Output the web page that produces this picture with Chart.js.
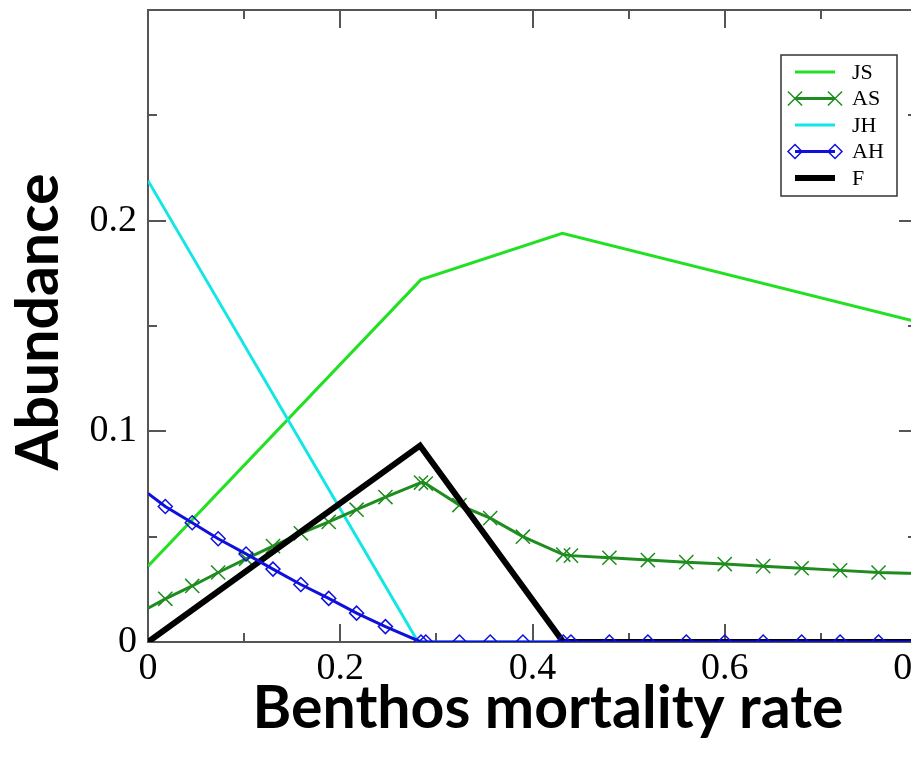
<!DOCTYPE html>
<html>
<head>
<meta charset="utf-8">
<script src="https://cdn.jsdelivr.net/npm/chart.js@4/dist/chart.umd.min.js"></script>
<style>
  html, body { margin: 0; padding: 0; background: #fff; overflow: hidden; }
  #caixa { width: 920px; height: 761px; }
</style>
</head>
<body>
<div id="caixa"><canvas id="grafico" width="920" height="761"></canvas></div>
<script>
// taxa de mortalidade do bentos (eixo x) e abundancias
const xJS = [0, 0.284, 0.431, 0.8];
const yJS = [0.036, 0.172, 0.194, 0.152];

const xJH = [0, 0.281, 0.8];
const yJH = [0.219, 0, 0];

const xF = [0, 0.283, 0.432, 0.8];
const yF = [0, 0.0932, 0, 0];

// series adultas: simbolos em cada ponto calculado
const xAdultos = [0, 0.018, 0.046, 0.073, 0.102, 0.130, 0.159, 0.188, 0.217, 0.247,
  0.284, 0.289, 0.324, 0.356, 0.390, 0.432, 0.44, 0.48, 0.52, 0.56,
  0.60, 0.64, 0.68, 0.72, 0.76, 0.8];
const yAS = [0.016, 0.0205, 0.0266, 0.033, 0.0395, 0.0455, 0.0516, 0.057, 0.0628, 0.0688,
  0.0757, 0.0752, 0.065, 0.0588, 0.050, 0.0415, 0.041, 0.040, 0.0389, 0.0379,
  0.037, 0.036, 0.035, 0.034, 0.033, 0.0325];
const yAH = [0.0705, 0.0643, 0.0566, 0.049, 0.0418, 0.0346, 0.0273, 0.0207, 0.0137, 0.0073,
  0, 0, 0, 0, 0, 0, 0, 0, 0, 0,
  0, 0, 0, 0, 0, 0];

const xRotulos = ['0', '0.2', '0.4', '0.6', '0.8'];
const yRotulos = ['0', '0.1', '0.2'];

const tituloX = 'Benthos mortality rate';
const tituloY = 'Abundance';

const pontos = (xs, ys) => xs.map((v, i) => ({ x: v, y: ys[i] }));
// sem simbolo nas pontas do eixo
const raio = (r, n) => (c) => (c.dataIndex === 0 || c.dataIndex === n - 1) ? 0 : r;

const moldura = {
  id: 'moldura',
  beforeDatasetsDraw(chart) {
    const { ctx, chartArea: a, scales: { x, y } } = chart;
    ctx.save();
    ctx.strokeStyle = '#555';
    ctx.lineWidth = 2;
    ctx.strokeRect(a.left, a.top, a.right - a.left, a.bottom - a.top);
    ctx.beginPath();
    x.ticks.forEach((t, i) => {
      const px = Math.round(x.getPixelForValue(t.value));
      const len = i % 2 === 0 ? 18 : 9;
      ctx.moveTo(px, a.bottom); ctx.lineTo(px, a.bottom - len);
      ctx.moveTo(px, a.top); ctx.lineTo(px, a.top + len);
    });
    y.ticks.forEach((t, i) => {
      const py = Math.round(y.getPixelForValue(t.value));
      const len = i % 2 === 0 ? 18 : 9;
      ctx.moveTo(a.left, py); ctx.lineTo(a.left + len, py);
      ctx.moveTo(a.right, py); ctx.lineTo(a.right - len, py);
    });
    ctx.stroke();
    ctx.restore();
  }
};

const titulos = {
  id: 'titulos',
  afterDraw(chart) {
    const { ctx } = chart;
    ctx.save();
    ctx.fillStyle = '#000';
    ctx.font = 'bold 59px Lato';
    ctx.textAlign = 'center';
    ctx.textBaseline = 'alphabetic';
    ctx.fillText(tituloX, 548, 728);
    ctx.translate(58, 322);
    ctx.rotate(-Math.PI / 2);
    ctx.fillText(tituloY, 0, 0);
    ctx.restore();
  }
};

const legenda = {
  id: 'legenda',
  afterDraw(chart) {
    const { ctx } = chart;
    const bx = 781, by = 55, bw = 116, bh = 141;
    ctx.save();
    ctx.fillStyle = '#fff';
    ctx.fillRect(bx, by, bw, bh);
    ctx.strokeStyle = '#333';
    ctx.lineWidth = 1.5;
    ctx.strokeRect(bx, by, bw, bh);
    ctx.font = '22px "Liberation Serif"';
    ctx.textBaseline = 'middle';
    chart.data.datasets.forEach((ds, i) => {
      const ly = by + 17 + i * 26.5;
      ctx.strokeStyle = ds.borderColor;
      ctx.lineWidth = ds.borderWidth;
      ctx.beginPath();
      ctx.moveTo(bx + 14, ly);
      ctx.lineTo(bx + 54, ly);
      ctx.stroke();
      if (ds.pointStyle) {
        ctx.lineWidth = ds.pointBorderWidth;
        ctx.fillStyle = 'rgba(0,0,0,0)';
        const op = { pointStyle: ds.pointStyle, radius: ds.simbolo, borderWidth: ds.pointBorderWidth, rotation: 0 };
        Chart.helpers.drawPoint(ctx, op, bx + 14, ly);
        Chart.helpers.drawPoint(ctx, op, bx + 54, ly);
      }
      ctx.fillStyle = '#000';
      ctx.fillText(ds.label, bx + 71, ly + 1);
    });
    ctx.restore();
  }
};

new Chart(document.getElementById('grafico'), {
  type: 'scatter',
  data: {
    datasets: [
      { label: 'JS', data: pontos(xJS, yJS), showLine: true, borderColor: '#22e022',
        borderWidth: 3, pointRadius: 0, order: 4 },
      { label: 'AS', data: pontos(xAdultos, yAS), showLine: true, borderColor: '#1f8c1f',
        borderWidth: 3, pointStyle: 'crossRot', simbolo: 10, pointRadius: raio(10, xAdultos.length),
        pointBorderWidth: 1.5, pointBorderColor: '#1f8c1f', pointBackgroundColor: 'rgba(0,0,0,0)', order: 2 },
      { label: 'JH', data: pontos(xJH, yJH), showLine: true, borderColor: '#14e6e6',
        borderWidth: 3, pointRadius: 0, order: 3 },
      { label: 'AH', data: pontos(xAdultos, yAH), showLine: true, borderColor: '#1010dd',
        borderWidth: 3, pointStyle: 'rectRot', simbolo: 7, pointRadius: raio(7, xAdultos.length),
        pointBorderWidth: 1.5, pointBorderColor: '#1010dd', pointBackgroundColor: 'rgba(0,0,0,0)', order: 0 },
      { label: 'F', data: pontos(xF, yF), showLine: true, borderColor: '#000',
        borderWidth: 6, pointRadius: 0, order: 1 }
    ]
  },
  options: {
    responsive: false,
    animation: false,
    events: [],
    layout: { padding: { top: 10, right: 3, left: 0, bottom: 0 } },
    plugins: { legend: { display: false }, tooltip: { enabled: false } },
    elements: { line: { tension: 0 } },
    scales: {
      x: {
        type: 'linear', min: 0, max: 0.8,
        grid: { display: false, drawTicks: false }, border: { display: false },
        ticks: {
          stepSize: 0.1, autoSkip: false, maxRotation: 0, padding: 4,
          color: '#000', font: { family: 'Liberation Serif', size: 38 },
          callback: (v, i) => i % 2 === 0 ? (xRotulos[i / 2] || '') : ''
        },
        afterFit: (s) => { s.height = 119; s.paddingLeft = 0; s.paddingRight = 0; }
      },
      y: {
        type: 'linear', min: 0, max: 0.3,
        grid: { display: false, drawTicks: false }, border: { display: false },
        ticks: {
          stepSize: 0.05, autoSkip: false, padding: 11,
          color: '#000', font: { family: 'Liberation Serif', size: 38 },
          callback: (v, i) => i % 2 === 0 ? (yRotulos[i / 2] || '') : ''
        },
        afterFit: (s) => { s.width = 148; s.paddingTop = 0; s.paddingBottom = 0; }
      }
    }
  },
  plugins: [moldura, titulos, legenda]
});
</script>
</body>
</html>
